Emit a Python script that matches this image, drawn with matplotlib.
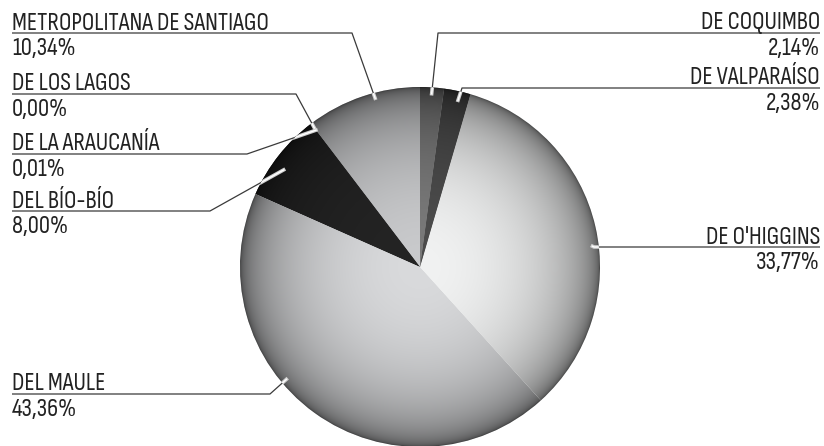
import numpy as np
import matplotlib
matplotlib.use('Agg')
import matplotlib.pyplot as plt
from matplotlib.patches import Circle

# data, counter-clockwise from 12 o'clock
regions = ["METROPOLITANA DE SANTIAGO", "DE LOS LAGOS", "DE LA ARAUCANÍA", "DEL BÍO-BÍO",
           "DEL MAULE", "DE O'HIGGINS", "DE VALPARAÍSO", "DE COQUIMBO"]
shares = [10.34, 0.00, 0.01, 8.00, 43.36, 33.77, 2.38, 2.14]
pct_labels = ["10,34%", "0,00%", "0,01%", "8,00%", "43,36%", "33,77%", "2,38%", "2,14%"]
base_colors = ["#c9cacc", "#b0b0b0", "#909090", "#242424",
               "#d9dadc", "#f1f2f2", "#4c4c4c", "#7a7a7a"]

W, H = 824, 446
cx, cy, R = 420, H - 267, 180

# label layout: side, underline y (px from top), elbow x, position inside wedge, radius fraction
layout = [
    ("left", 33, 352, 0.40, 0.97),
    ("left", 94, 296, 0.50, 0.97),
    ("left", 154, 247, 0.50, 0.955),
    ("left", 211, 210, 0.60, 0.93),
    ("left", 394, 270, 0.41, 0.97),
    ("right", 247, 594, 0.45, 0.965),
    ("right", 88, 462, 0.40, 0.95),
    ("right", 33, 438, 0.50, 0.965),
]

plt.rcParams['font.family'] = ['Sofia Sans Condensed', 'PT Sans Narrow', 'DejaVu Sans']

fig = plt.figure(figsize=(W / 100, H / 100), dpi=100)
ax = fig.add_axes([0, 0, 1, 1])

wedges, _ = ax.pie(shares, startangle=90, counterclock=True, center=(cx, cy), radius=R,
                   colors=base_colors, wedgeprops=dict(linewidth=0))

# radial shading, light in the middle and dark at the rim
n = 500
g = np.linspace(-1, 1, n)
xx, yy = np.meshgrid(g, g)
t = np.clip(np.sqrt(xx ** 2 + yy ** 2), 0, 1)
shade = 0.28 + 0.72 * (1 - t ** 2) ** 0.42
for w, c in zip(wedges, base_colors):
    rgb = np.array(matplotlib.colors.to_rgb(c))
    img = np.clip(shade[..., None] * rgb[None, None, :], 0, 1)
    im = ax.imshow(img, extent=[cx - R, cx + R, cy - R, cy + R], origin='lower',
                   interpolation='bilinear', zorder=2)
    im.set_clip_path(w)

circ = Circle((cx, cy), R, transform=ax.transData, visible=False)
ax.add_patch(circ)

txt = "#222222"
fs = 18
for w, name, pct, (side, uy, ex, frac, rf) in zip(wedges, regions, pct_labels, layout):
    ang = np.deg2rad(w.theta1 + frac * (w.theta2 - w.theta1))
    px, py = cx + rf * R * np.cos(ang), cy + rf * R * np.sin(ang)
    ly = H - uy
    if side == "left":
        x0, ha = 12, "left"
    else:
        x0, ha = 820, "right"
    xs, ys = [x0, ex, px], [ly, ly, py]
    ax.plot(xs, ys, color="#3a3a3a", lw=0.9, zorder=5, solid_capstyle='butt')
    # double line inside the pie
    l1, = ax.plot(xs, ys, color="#cfcfcf", lw=2.6, zorder=6)
    l2, = ax.plot(xs, ys, color="white", lw=1.0, zorder=7)
    l1.set_clip_path(circ)
    l2.set_clip_path(circ)
    ax.text(x0, ly + 3.5, name, ha=ha, va="baseline", fontsize=fs, fontweight='light',
            color=txt, zorder=8)
    ax.text(x0, ly - 22, pct, ha=ha, va="baseline", fontsize=fs, fontweight='light',
            color=txt, zorder=8)

ax.set_xlim(0, W)
ax.set_ylim(0, H)
ax.set_aspect('equal')
ax.axis('off')

fig.savefig("out.png", dpi=100)
